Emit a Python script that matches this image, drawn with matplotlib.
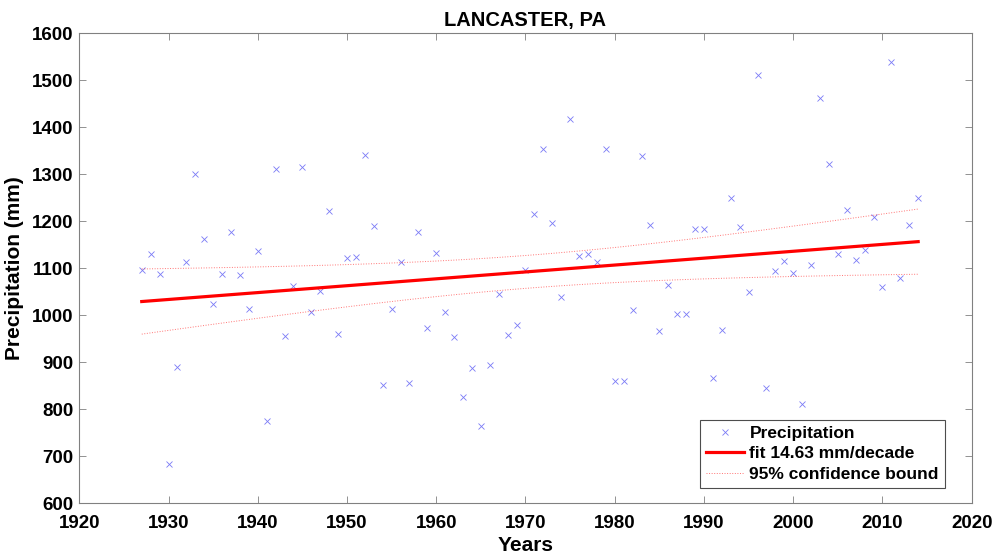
import numpy as np
import matplotlib.pyplot as plt

plt.rcParams['font.family'] = ['Liberation Sans', 'DejaVu Sans']
plt.rcParams['font.weight'] = 'bold'

# annual precipitation, Lancaster PA
years = np.arange(1927, 2015)
precip = [1097, 1130, 1088, 683, 889, 1113, 1300, 1163, 1024, 1088,
          1177, 1085, 1013, 1136, 775, 1312, 957, 1062, 1315, 1008,
          1051, 1221, 960, 1121, 1125, 1342, 1191, 851, 1014, 1113,
          855, 1178, 972, 1132, 1007, 953, 827, 887, 765, 894,
          1045, 958, 979, 1096, 1215, 1353, 1197, 1040, 1418, 1126,
          1130, 1113, 1354, 861, 861, 1011, 1339, 1192, 967, 1065,
          1003, 1002, 1183, 1184, 867, 969, 1250, 1188, 1050, 1512,
          845, 1094, 1116, 1090, 811, 1106, 1462, 1321, 1130, 1224,
          1118, 1138, 1209, 1060, 1539, 1080, 1193, 1249]
precip = np.array(precip, dtype=float)
slope_text = '14.63'  # as printed in the legend

# linear fit and 95% confidence bounds of the fitted line
p = np.polyfit(years, precip, 1)
fit = np.polyval(p, years)
n = len(years)
resid = precip - fit
s = np.sqrt(np.sum(resid**2) / (n - 2))
sxx = np.sum((years - years.mean())**2)
tval = 1.988  # t(0.975, n-2)
half = tval * s * np.sqrt(1.0/n + (years - years.mean())**2 / sxx)

fig = plt.figure(figsize=(9.96, 5.55), dpi=100)
ax = fig.add_axes([0.0796, 0.0931, 0.896, 0.8469])

ax.plot(years, precip, 'x', color=(0.2, 0.2, 0.95), alpha=0.65,
        markersize=4.6, markeredgewidth=0.6, label='Precipitation')
ax.plot(years, fit, '-', color='red', linewidth=2.3,
        label='fit ' + slope_text + ' mm/decade')
ax.plot(years, fit + half, ':', color='red', alpha=0.55, linewidth=0.7,
        label='95% confidence bound')
ax.plot(years, fit - half, ':', color='red', alpha=0.55, linewidth=0.7)

ax.set_xlim(1920, 2020)
ax.set_ylim(600, 1600)
ax.set_xticks(np.arange(1920, 2021, 10))
ax.set_yticks(np.arange(600, 1601, 100))
ax.tick_params(direction='in', top=True, right=True, length=5,
               width=0.6, color='0.5', labelsize=13.5)
ax.tick_params(axis='x', pad=8.5)
ax.tick_params(axis='y', pad=4)
for sp in ax.spines.values():
    sp.set_color('0.5')
    sp.set_linewidth(0.8)

ax.set_title('LANCASTER, PA', fontsize=14.5, fontweight='bold', pad=5)
ax.set_xlabel('Years', fontsize=15, fontweight='bold', labelpad=3)
ax.set_ylabel('Precipitation (mm)', fontsize=15, fontweight='bold', labelpad=6)

leg = ax.legend(loc='lower right', bbox_to_anchor=(0.970, 0.033),
                borderaxespad=0, fontsize=12.5, fancybox=False,
                edgecolor='0.3', framealpha=1, handlelength=2.2,
                handletextpad=0.3, borderpad=0.35, labelspacing=0.3)
leg.get_frame().set_linewidth(0.8)

fig.savefig('out.png', dpi=100)
